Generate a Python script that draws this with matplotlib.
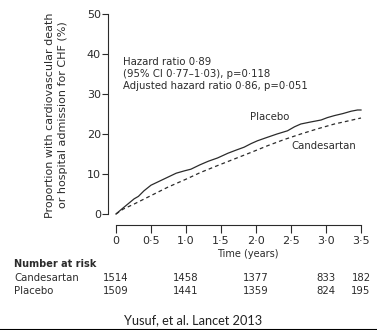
import matplotlib
matplotlib.use("Agg")
import matplotlib.pyplot as plt
from matplotlib.lines import Line2D

plt.rcParams['font.family'] = ['DejaVu Sans']

# Kaplan-Meier style curves (years, %)
placebo_t = [0, 0.08, 0.17, 0.26, 0.32, 0.4, 0.5, 0.62, 0.74, 0.86, 0.98, 1.07, 1.2, 1.32, 1.45,
             1.6, 1.72, 1.83, 1.93, 2.02, 2.15, 2.3, 2.45, 2.55, 2.64, 2.78, 2.93, 3.02, 3.12,
             3.24, 3.36, 3.45, 3.5]
placebo_y = [0, 1.2, 2.5, 3.8, 4.4, 5.8, 7.2, 8.2, 9.2, 10.2, 10.8, 11.2, 12.3, 13.2, 14.0,
             15.2, 16.0, 16.7, 17.6, 18.3, 19.1, 20.0, 20.8, 21.8, 22.5, 23.0, 23.5, 24.1, 24.6,
             25.1, 25.7, 26.0, 26.0]
cand_t = [0, 0.1, 0.26, 0.5, 0.74, 1.0, 1.21, 1.45, 1.69, 1.93, 2.17, 2.4, 2.64, 2.88, 3.12, 3.3, 3.5]
cand_y = [0, 1.2, 2.5, 4.6, 6.7, 8.7, 10.4, 12.1, 13.75, 15.4, 17.1, 18.6, 20.0, 21.3, 22.5, 23.2, 24.0]

xticks = [0, 0.5, 1.0, 1.5, 2.0, 2.5, 3.0, 3.5]
xtick_labels = ["0", "0·5", "1·0", "1·5", "2·0", "2·5", "3·0", "3·5"]
yticks = [0, 10, 20, 30, 40, 50]

risk_groups = ["Candesartan", "Placebo"]
risk_times = [0, 1.0, 2.0, 3.0, 3.5]
risk_numbers = [[1514, 1458, 1377, 833, 182],
                [1509, 1441, 1359, 824, 195]]

ink = "#2b2b2b"
W, H = 377, 330
fig = plt.figure(figsize=(W / 100, H / 100), dpi=100)
ax = fig.add_axes([108 / W, 1 - 214 / H, 253 / W, 200 / H])

ax.plot(placebo_t, placebo_y, color=ink, lw=0.9, clip_on=False)
ax.plot(cand_t, cand_y, color=ink, lw=0.9, ls=(0, (3, 2.5)), clip_on=False)

ax.set_xlim(-0.114, 3.5)
ax.set_ylim(0, 50)
for s in ["top", "right"]:
    ax.spines[s].set_visible(False)
ax.spines["bottom"].set_position(("outward", 8))
ax.spines["bottom"].set_bounds(0, 3.5)
ax.spines["left"].set_bounds(0, 50)
for s in ["bottom", "left"]:
    ax.spines[s].set_color(ink)
    ax.spines[s].set_linewidth(0.8)
ax.set_xticks(xticks)
ax.set_xticklabels(xtick_labels)
ax.set_yticks(yticks)
ax.tick_params(axis="x", length=6, width=0.8, color=ink, labelcolor=ink, labelsize=8, pad=2)
ax.tick_params(axis="y", length=4, width=0.8, color=ink, labelcolor=ink, labelsize=8, pad=1)

fig.text(248 / W, 1 - 254 / H, "Time (years)", ha="center", va="center", fontsize=7, color=ink)
fig.text(56.5 / W, 1 - 115 / H, "Proportion with cardiovascular death\nor hospital admission for CHF (%)",
         rotation=90, ha="center", va="center", multialignment="center",
         fontsize=8, color=ink, linespacing=1.45)

ax.text(0.1, 35, "Hazard ratio 0·89\n(95% CI 0·77–1·03), p=0·118\nAdjusted hazard ratio 0·86, p=0·051",
        ha="left", va="center", fontsize=7.3, color=ink, linespacing=1.3)
ax.text(1.91, 24.25, "Placebo", ha="left", va="center", fontsize=7.3, color=ink)
ax.text(2.51, 17.0, "Candesartan", ha="left", va="center", fontsize=7.3, color=ink)

# number at risk table
fig.text(14 / W, 1 - 264 / H, "Number at risk", ha="left", va="center", fontsize=7,
         fontweight="bold", color=ink)
for i, (grp, nums) in enumerate(zip(risk_groups, risk_numbers)):
    ypix = 278 + 13.5 * i
    fig.text(14 / W, 1 - ypix / H, grp, ha="left", va="center", fontsize=7.3, color=ink)
    for t, n in zip(risk_times, nums):
        xpix = 116 + t * 70
        fig.text(xpix / W, 1 - ypix / H, str(n), ha="center", va="center", fontsize=7.3, color=ink)

fig.text(193 / W, 1 - 320 / H, "Yusuf, et al. Lancet 2013", ha="center", va="center",
         fontsize=9.2, color="#222222", family=["Lato", "DejaVu Sans"])
fig.add_artist(Line2D([0, 1], [0.5 / H, 0.5 / H], color="black", lw=1.5))

fig.savefig("out.png", dpi=100)
